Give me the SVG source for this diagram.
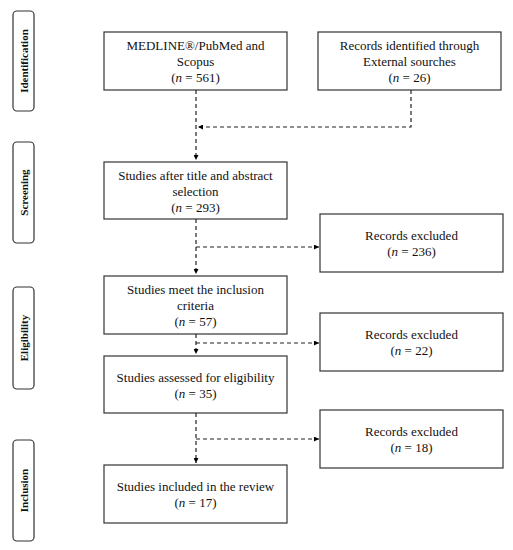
<svg xmlns="http://www.w3.org/2000/svg" width="513" height="550" viewBox="0 0 513 550">
<defs>
<marker id="ah" viewBox="0 0 6 6" refX="6" refY="3" markerWidth="5" markerHeight="5" orient="auto" markerUnits="userSpaceOnUse">
<path d="M0,0 L6,3 L0,6 Z" fill="#000"/>
</marker>
<style>
.box{fill:#fff;stroke:#333;stroke-width:1.2}
.side{fill:#fff;stroke:#333;stroke-width:1.2}
.t{font-family:"Liberation Serif","Times New Roman",serif;font-size:13px;fill:#111;text-anchor:middle}
.s{font-family:"Liberation Serif","Times New Roman",serif;font-size:11px;font-weight:bold;fill:#111;text-anchor:middle}
.c{fill:none;stroke:#222;stroke-width:1.2;stroke-dasharray:4,3}
</style>
</defs>
<rect width="513" height="550" fill="#fff"/>
<g id="side-identification"><rect class="side" x="13" y="11" width="21" height="100" rx="4"/><text class="s" transform="translate(27.5,61) rotate(-90)">Identification</text></g>
<g id="side-screening"><rect class="side" x="13" y="142" width="21" height="101" rx="4"/><text class="s" transform="translate(27.5,192.5) rotate(-90)">Screening</text></g>
<g id="side-eligibility"><rect class="side" x="13" y="287" width="21" height="102" rx="4"/><text class="s" transform="translate(27.5,338) rotate(-90)">Eligibility</text></g>
<g id="side-inclusion"><rect class="side" x="13" y="440" width="21" height="101" rx="4"/><text class="s" transform="translate(27.5,490.5) rotate(-90)">Inclusion</text></g>

<g id="connectors">
<path class="c" d="M196,90 V160" marker-end="url(#ah)"/>
<path class="c" d="M411,90 V127 H198" marker-end="url(#ah)"/>
<path class="c" d="M196,219 V274" marker-end="url(#ah)"/>
<path class="c" d="M196,247 H319" marker-end="url(#ah)"/>
<path class="c" d="M196,334 V354" marker-end="url(#ah)"/>
<path class="c" d="M196,343 H319" marker-end="url(#ah)"/>
<path class="c" d="M196,413 V463" marker-end="url(#ah)"/>
<path class="c" d="M196,439 H319" marker-end="url(#ah)"/>
</g>

<g id="n1"><rect class="box" x="104" y="32" width="183" height="58"/>
<text class="t" x="195.5" y="50">MEDLINE®/PubMed and</text>
<text class="t" x="195.5" y="66">Scopus</text>
<text class="t" x="195.5" y="82">(<tspan font-style="italic">n</tspan> = 561)</text></g>
<g id="n2"><rect class="box" x="318" y="32" width="183" height="58"/>
<text class="t" x="409.5" y="50">Records identified through</text>
<text class="t" x="409.5" y="66">External sourches</text>
<text class="t" x="409.5" y="82">(<tspan font-style="italic">n</tspan> = 26)</text></g>
<g id="n3"><rect class="box" x="104" y="162" width="183" height="57"/>
<text class="t" x="195.5" y="180">Studies after title and abstract</text>
<text class="t" x="195.5" y="196">selection</text>
<text class="t" x="195.5" y="212">(<tspan font-style="italic">n</tspan> = 293)</text></g>
<g id="n4"><rect class="box" x="320" y="214" width="183" height="58"/>
<text class="t" x="411.5" y="240">Records excluded</text>
<text class="t" x="411.5" y="256">(<tspan font-style="italic">n</tspan> = 236)</text></g>
<g id="n5"><rect class="box" x="104" y="276" width="183" height="58"/>
<text class="t" x="195.5" y="294">Studies meet the inclusion</text>
<text class="t" x="195.5" y="310">criteria</text>
<text class="t" x="195.5" y="326">(<tspan font-style="italic">n</tspan> = 57)</text></g>
<g id="n6"><rect class="box" x="320" y="313" width="183" height="58"/>
<text class="t" x="411.5" y="339">Records excluded</text>
<text class="t" x="411.5" y="355">(<tspan font-style="italic">n</tspan> = 22)</text></g>
<g id="n7"><rect class="box" x="104" y="356" width="183" height="57"/>
<text class="t" x="195.5" y="382">Studies assessed for eligibility</text>
<text class="t" x="195.5" y="398">(<tspan font-style="italic">n</tspan> = 35)</text></g>
<g id="n8"><rect class="box" x="320" y="410" width="183" height="58"/>
<text class="t" x="411.5" y="436">Records excluded</text>
<text class="t" x="411.5" y="452">(<tspan font-style="italic">n</tspan> = 18)</text></g>
<g id="n9"><rect class="box" x="104" y="465" width="183" height="58"/>
<text class="t" x="195.5" y="491">Studies included in the review</text>
<text class="t" x="195.5" y="507">(<tspan font-style="italic">n</tspan> = 17)</text></g>
</svg>
